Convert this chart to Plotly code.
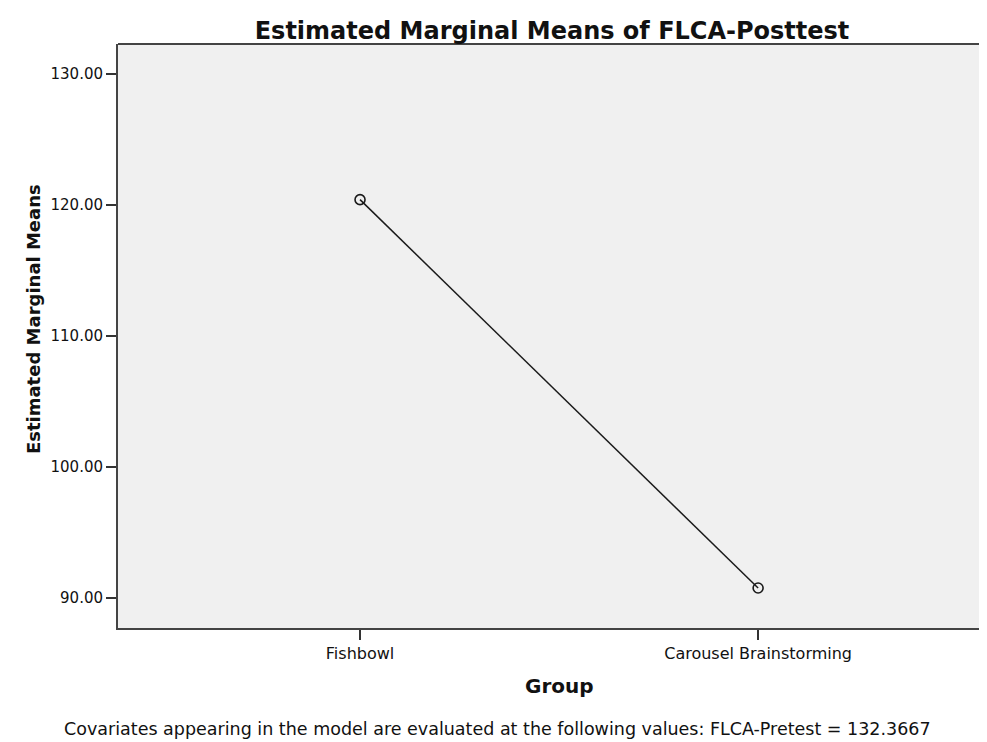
import plotly.graph_objects as go

groups = ["Fishbowl", "Carousel Brainstorming"]
means = [120.38, 90.76]
y_ticks = [90, 100, 110, 120, 130]
y_tick_labels = ["90.00", "100.00", "110.00", "120.00", "130.00"]

FONT = "DejaVu Sans, Liberation Sans, Arial, sans-serif"

fig = go.Figure()
fig.add_trace(go.Scatter(
    x=[0, 1], y=means, mode="lines+markers",
    line=dict(color="#1a1a1a", width=1.5),
    marker=dict(symbol="circle-open", size=10, color="#1a1a1a", line=dict(width=1.6)),
    hoverinfo="skip", showlegend=False,
))

fig.update_layout(
    width=979, height=734,
    margin=dict(l=110, r=0, t=36, b=114),
    paper_bgcolor="white", plot_bgcolor="#f0f0f0",
    font=dict(family=FONT, color="#1a1a1a"),
    title=dict(text="<b>Estimated Marginal Means of FLCA-Posttest</b>",
               x=0.5557, xanchor="center", y=0.9687, yanchor="middle",
               font=dict(size=24, color="#111", family=FONT)),
    xaxis=dict(range=[-0.608, 1.575], tickvals=[0, 1], ticktext=groups,
               showgrid=False, zeroline=False, ticks="outside", ticklen=10,
               tickwidth=1.5, tickcolor="#333", showline=True, linecolor="#444",
               linewidth=2, mirror=False, tickfont=dict(size=16, color="#111")),
    yaxis=dict(range=[87.71, 132.25], tickvals=y_ticks, ticktext=y_tick_labels,
               showgrid=False, zeroline=False, ticks="outside", ticklen=10,
               tickwidth=1.5, tickcolor="#333", showline=True, linecolor="#444",
               linewidth=2, tickfont=dict(size=15, color="#111")),
)

# top border line
fig.add_shape(type="line", xref="paper", yref="paper", x0=0, x1=1, y0=1, y1=1,
              line=dict(color="#444", width=2))

fig.add_annotation(text="<b>Group</b>", xref="paper", yref="paper", x=0.5086, y=-0.0993,
                   xanchor="center", yanchor="middle", showarrow=False,
                   font=dict(size=20, color="#111"))
fig.add_annotation(text="<b>Estimated Marginal Means</b>", xref="paper", yref="paper",
                   x=-0.0978, y=0.529, xanchor="center", yanchor="middle", textangle=-90,
                   showarrow=False, font=dict(size=18, color="#111"))
fig.add_annotation(text="Covariates appearing in the model are evaluated at the following values: FLCA-Pretest = 132.3667",
                   xref="paper", yref="paper", x=0.437, y=-0.1729, xanchor="center", yanchor="middle",
                   showarrow=False, font=dict(size=17.5, color="#111"))

fig.write_html("out.html")
